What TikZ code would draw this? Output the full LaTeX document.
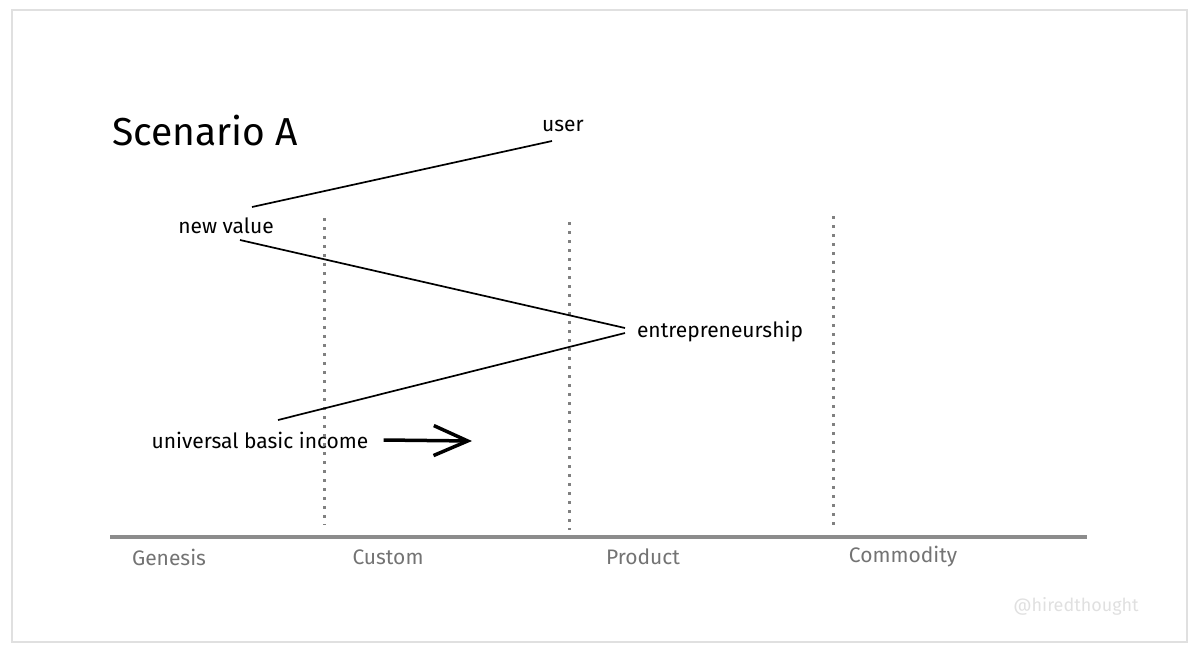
\documentclass[tikz,border=0pt]{standalone}
\usepackage{fontspec}
\setmainfont{Fira Sans}
\usepackage{tikz}
\usetikzlibrary{arrows.meta}
\tikzstyle{comp}=[inner sep=1pt, font=\fontsize{21}{24}\selectfont]
\tikzstyle{stage}=[inner sep=1pt, text=black!55, font=\fontsize{21}{24}\selectfont]
\tikzstyle{link}=[line width=1.7pt]
\tikzstyle{divider}=[draw=black!50, line width=3pt, dash pattern=on 3pt off 6pt]

\begin{document}
\begin{tikzpicture}[x=1pt, y=-1pt]
            \useasboundingbox (0,0) rectangle (1200,657);
            \draw[black!12, line width=1.5pt] (12,10) rectangle (1187,642);
            \node [anchor=base west, inner sep=0pt, font=\fontsize{39}{44}\selectfont] (title) at (112,145) {Scenario A};
            \node [comp] (user) at (563,126) {user};
            \node [comp] (nv) at (226,226) {new value};
            \node [comp] (ent) at (720,332) {entrepreneurship};
            \node [comp] (ubi) at (260,440) {universal basic income};
            \coordinate (tip) at (472,441);
            % evolution axis
            \draw[black!45, line width=4pt] (110,537) -- (1087,537);
            \draw[divider] (324,218) -- (324,525);
            \draw[divider] (569,222) -- (569,530);
            \draw[divider] (833,216) -- (833,525);
            \node [stage] (gen) at (169,557) {Genesis};
            \node [stage] (cus) at (388,557) {Custom};
            \node [stage] (pro) at (643,557) {Product};
            \node [stage] (com) at (903,557) {Commodity};
            \node [text=black!12, font=\fontsize{18}{21}\selectfont] (tag) at (1076,606) {@hiredthought};
            % links
            \path[link] ([shift={(-11,15)}]user.center) edge ([shift={(26,-19)}]nv.center);
            \path[link] ([shift={(14,14)}]nv.center) edge ([shift={(-95,-4)}]ent.center);
            \path[link] ([shift={(-95,1)}]ent.center) edge ([shift={(18,-20)}]ubi.center);
            \path[-{Straight Barb[length=34pt,width=30pt]}, line width=3.5pt] ([xshift=14pt]ubi.east) edge (tip);
        \end{tikzpicture}
\end{document}
